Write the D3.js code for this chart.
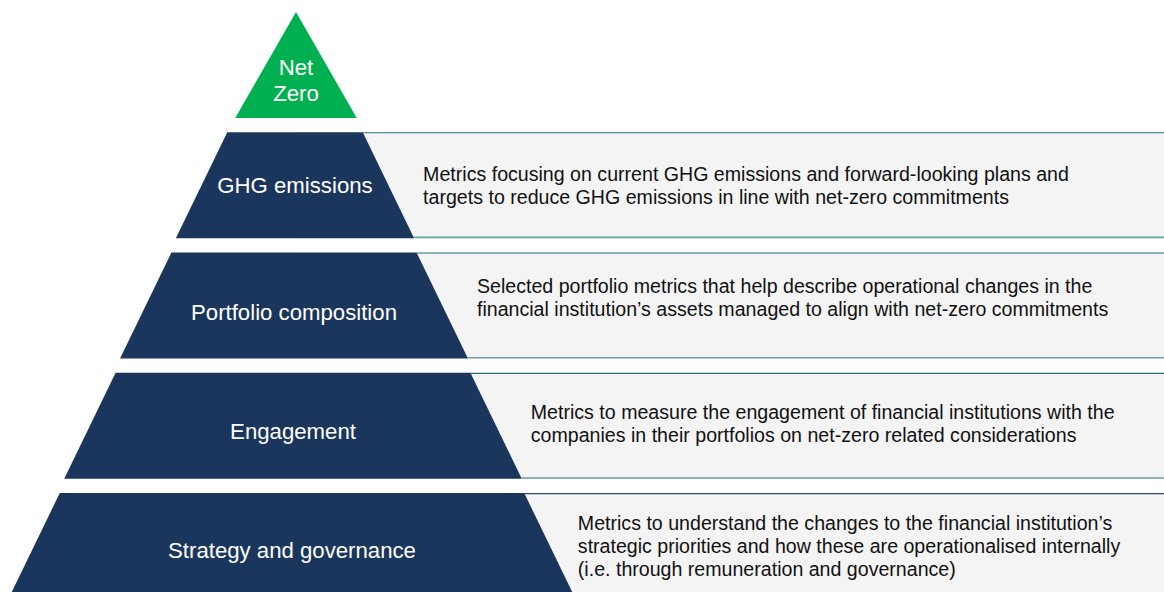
<!DOCTYPE html>
<html>
<head>
<meta charset="utf-8">
<script src="https://cdn.jsdelivr.net/npm/d3@7"></script>
<style>
  html, body { margin: 0; padding: 0; background: #fff; overflow: hidden; }
  svg { display: block; font-family: Arial, "Liberation Sans", sans-serif; }
</style>
</head>
<body>
<div id="chart"></div>
<script>
// pyramid levels, top to bottom
let levels = ["Net Zero", "GHG emissions", "Portfolio composition", "Engagement", "Strategy and governance"]
let labelLines = [
    ["Net", "Zero"],
    ["GHG emissions"],
    ["Portfolio composition"],
    ["Engagement"],
    ["Strategy and governance"]
]
let descriptions = [
    [],
    ["Metrics focusing on current GHG emissions and forward-looking plans and",
     "targets to reduce GHG emissions in line with net-zero commitments"],
    ["Selected portfolio metrics that help describe operational changes in the",
     "financial institution\u2019s assets managed to align with net-zero commitments"],
    ["Metrics to measure the engagement of financial institutions with the",
     "companies in their portfolios on net-zero related considerations"],
    ["Metrics to understand the changes to the financial institution\u2019s",
     "strategic priorities and how these are operationalised internally",
     "(i.e. through remuneration and governance)"]
]

let width = 1164, height = 592

let svg = d3.select("#chart").append("svg")
    .attr("width", width)
    .attr("height", height)

// vertical placement of each level
let y = d3.scaleBand()
    .domain(levels)
    .range([12, 599])
    .paddingInner(0.119)

// half width of the pyramid as it goes down
let halfW = d3.scaleLinear()
    .domain([0, 600])
    .range([6.5, 6.5 + 0.485 * 600])

let shift = i => 6 + 7.2 * Math.max(0, i - 1)
let cx = i => 296 - i
// small hand nudges so text sits where it does in the original slide
let labelNudge = [0, 0, 6, 5, 4]
let descNudge = [0, 0, -8, -2.5, 0]

let rows = levels.map((name, i) => {
    let top = y(name), bot = top + y.bandwidth()
    return {
        name: name, i: i, top: top, bot: bot,
        tw: i === 0 ? 0 : halfW(top - shift(i)),
        bw: halfW(bot - shift(i)),
        tx: cx(i) + halfW(Math.min(bot, 585) - shift(i)) + 9,
        c: cx(i)
    }
})

// grey description panels
let panels = svg.selectAll("g.panel")
    .data(rows.filter(d => d.i > 0))
    .enter().append("g").attr("class", "panel")

panels.append("rect")
    .attr("x", d => d.c)
    .attr("y", d => d.top)
    .attr("width", d => width - d.c)
    .attr("height", d => d.bot - d.top)
    .attr("fill", "#f4f4f4")

panels.append("line")
    .attr("x1", d => d.c + d.tw).attr("x2", width)
    .attr("y1", d => d.top + 0.5).attr("y2", d => d.top + 0.5)
    .attr("stroke", d => d.i === 4 ? "#34495e" : "#2b6f7c")
    .attr("stroke-width", 1.2)

panels.append("line")
    .attr("x1", d => d.c + d.bw).attr("x2", width)
    .attr("y1", d => d.bot - 0.8).attr("y2", d => d.bot - 0.8)
    .attr("stroke", "#6b9ea4")
    .attr("stroke-width", 1.6)

// pyramid pieces
svg.selectAll("path.level")
    .data(rows)
    .enter().append("path")
    .attr("class", "level")
    .attr("d", d => d3.line()([
        [d.c - d.tw, d.top], [d.c + d.tw, d.top],
        [d.c + d.bw, d.bot], [d.c - d.bw, d.bot]
    ]) + "Z")
    .attr("fill", d => d.i === 0 ? "#00b050" : "#1b365d")

// labels inside the pyramid
svg.selectAll("text.label")
    .data(rows)
    .enter().append("text")
    .attr("class", "label")
    .attr("x", d => d.c)
    .attr("y", d => {
        let mid = d.i === 0 ? d.top + 68 : (d.top + d.bot) / 2 + labelNudge[d.i]
        return mid - (labelLines[d.i].length - 1) * 13
    })
    .attr("text-anchor", "middle")
    .attr("dominant-baseline", "central")
    .attr("fill", "#fff")
    .style("font-size", "22.2px")
    .selectAll("tspan")
    .data(d => labelLines[d.i].map(t => ({t: t, c: d.c})))
    .enter().append("tspan")
    .attr("x", d => d.c)
    .attr("dy", (d, j) => j === 0 ? 0 : 26)
    .text(d => d.t)

// descriptions to the right
svg.selectAll("text.desc")
    .data(rows.filter(d => d.i > 0))
    .enter().append("text")
    .attr("class", "desc")
    .attr("y", d => (d.top + d.bot) / 2 + descNudge[d.i] - (descriptions[d.i].length - 1) * 11.5)
    .attr("dominant-baseline", "central")
    .attr("fill", "#111")
    .style("font-size", "19.6px")
    .selectAll("tspan")
    .data(d => descriptions[d.i].map(t => ({t: t, x: d.tx})))
    .enter().append("tspan")
    .attr("x", d => d.x)
    .attr("dy", (d, j) => j === 0 ? 0 : 23)
    .text(d => d.t)
</script>
</body>
</html>
